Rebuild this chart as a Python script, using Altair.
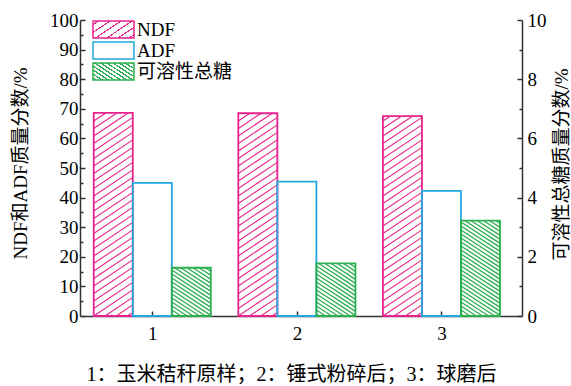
import altair as alt
import numpy as np
import pandas as pd

# Sample groups: 1 raw corn stover, 2 hammer-milled, 3 ball-milled
groups = [1, 2, 3]
ndf = [68.6, 68.5, 67.5]      # NDF mass fraction, %
adf = [45.0, 45.4, 42.3]      # ADF mass fraction, %
sugar = [1.63, 1.78, 3.22]    # total soluble sugar mass fraction, %

series_names = ["NDF", "ADF", "可溶性总糖"]
series_colors = ["#E8228C", "#22A9E1", "#2DAE50"]
x_tick_values = [1, 1.5, 2, 2.5, 3]
left_ticks = list(range(0, 101, 5))
right_ticks = list(range(0, 11))

FONT = "Liberation Serif, Noto Sans CJK SC"
PLOT_W, PLOT_H = 442, 296
X_DOMAIN = [0.5, 3.557]
BAR_W = 0.27
OFFSETS = {"NDF": -BAR_W, "ADF": 0.0, "可溶性总糖": BAR_W}

KX = PLOT_W / (X_DOMAIN[1] - X_DOMAIN[0])   # px per x unit
KY_LEFT = PLOT_H / 100.0
KY_RIGHT = PLOT_H / 10.0

rows = []
for name, vals in zip(series_names, [ndf, adf, sugar]):
    for g, v in zip(groups, vals):
        c = g + OFFSETS[name]
        rows.append({"group": g, "series": name, "value": v,
                     "x0": c - BAR_W / 2, "x1": c + BAR_W / 2})
bars = pd.DataFrame(rows)


def hatch_lines(x0, x1, top, ky, slope, gap, rising):
    """Diagonal hatch segments clipped to a bar, returned in data units."""
    wp = (x1 - x0) * KX
    hp = top * ky
    segs = []
    if rising:
        c = np.ceil(-slope * wp / gap) * gap
        while c < hp:
            a = max(0.0, -c / slope)
            b = min(wp, (hp - c) / slope)
            if b - a > 0.3:
                segs.append((a, slope * a + c, b, slope * b + c))
            c += gap
    else:
        c = gap / 2
        while c < hp + slope * wp:
            a = max(0.0, (c - hp) / slope)
            b = min(wp, c / slope)
            if b - a > 0.3:
                segs.append((a, -slope * a + c, b, -slope * b + c))
            c += gap
    return [(x0 + a / KX, ya / ky, x0 + b / KX, yb / ky) for a, ya, b, yb in segs]


hrows = []
for _, r in bars.iterrows():
    if r.series == "NDF":
        segs = hatch_lines(r.x0, r.x1, r.value, KY_LEFT, 0.67, 7.5, True)
    elif r.series == "可溶性总糖":
        segs = hatch_lines(r.x0, r.x1, r.value, KY_RIGHT, 0.65, 4.0, False)
    else:
        segs = []
    for xa, ya, xb, yb in segs:
        hrows.append({"series": r.series, "hx": xa, "hy": ya, "hx2": xb, "hy2": yb})
hatch = pd.DataFrame(hrows)


def stripe_gradient(w, h, slope, gap, line_w, color, rising):
    """Striped linear gradient for a w x h legend swatch (bbox units)."""
    span = slope * w + h
    k = span / (slope ** 2 * w ** 2 + h ** 2)
    gx, gy = slope * w * k, h * k
    if rising:
        x1, y1, x2, y2 = 0, 0, gx, gy
    else:
        x1, y1, x2, y2 = 0, 1, gx, 1 - gy
    half = line_w * np.sqrt(1 + slope ** 2) / 2 / span
    stops = ["{offset:0,color:'white'}"]
    t = gap / 2 / span
    while t < 1:
        a, b = max(t - half, 0), min(t + half, 1)
        stops += [f"{{offset:{a:.4f},color:'white'}}", f"{{offset:{a:.4f},color:'{color}'}}",
                  f"{{offset:{b:.4f},color:'{color}'}}", f"{{offset:{b:.4f},color:'white'}}"]
        t += gap / span
    stops.append("{offset:1,color:'white'}")
    return ("{gradient:'linear',x1:%g,y1:%g,x2:%.4f,y2:%.4f,stops:[%s]}"
            % (x1, y1, x2, y2, ",".join(stops)))


legend_fills = [
    {"expr": stripe_gradient(41, 17, 0.67, 7.5, 1.1, series_colors[0], True)},
    "white",
    {"expr": stripe_gradient(41, 17, 0.65, 4.0, 1.3, series_colors[2], False)},
]

stroke_scale = alt.Scale(domain=series_names, range=series_colors)
fill_scale = alt.Scale(domain=series_names, range=legend_fills)

legend = alt.Legend(
    title=None, orient="none", legendX=12, legendY=0, padding=0,
    symbolType="M-1,-1H3.82V1H-1Z", symbolSize=289, symbolStrokeWidth=1.5,
    labelFont=FONT, labelFontSize=19, labelColor="black", labelOffset=26,
    rowPadding={"expr": "-2"}, labelLimit=0,
)

x_axis = alt.Axis(
    values=x_tick_values, labelExpr="datum.value % 1 === 0 ? datum.label : ''",
    format="d", tickSize={"expr": "-5"}, labelPadding=13,
    title="1：玉米秸秆原样；2：锤式粉碎后；3：球磨后", titleX=211, titleY=58,
    titleAlign="center", titleBaseline="middle", titleFontSize=20,
)
x_scale = alt.Scale(domain=X_DOMAIN, nice=False, zero=False)

left_axis = alt.Axis(
    values=left_ticks, labelExpr="datum.value % 10 === 0 ? datum.label : ''",
    format="d", tickSize={"expr": "datum.value % 10 === 0 ? -5 : -3"}, labelPadding=7,
    title="NDF和ADF质量分数/%", titleAngle=270, titleX=-60, titleY=143,
    titleAlign="center", titleBaseline="middle",
)
left_scale = alt.Scale(domain=[0, 100], nice=False)

right_axis = alt.Axis(
    orient="right", values=right_ticks,
    labelExpr="datum.value % 2 === 0 ? datum.label : ''",
    format="d", tickSize={"expr": "datum.value % 2 === 0 ? -5 : -3"}, labelPadding=10,
    title="可溶性总糖质量分数/%", titleAngle=270, titleX=39, titleY=144,
    titleAlign="center", titleBaseline="middle",
)
right_scale = alt.Scale(domain=[0, 10], nice=False)

left_bars_data = bars[bars.series != "可溶性总糖"]
right_bars_data = bars[bars.series == "可溶性总糖"]

# Invisible layer that only carries the legend (hatched swatches)
legend_carrier = alt.Chart(left_bars_data).transform_filter("false").mark_bar().encode(
    x=alt.X("x0:Q", scale=x_scale, axis=x_axis),
    x2="x1:Q",
    y=alt.Y("value:Q", scale=left_scale, axis=left_axis, stack=None),
    y2=alt.datum(0),
    fill=alt.Fill("series:N", scale=fill_scale, legend=legend),
    stroke=alt.Stroke("series:N", scale=stroke_scale, legend=legend),
)

left_hatch = alt.Chart(hatch[hatch.series == "NDF"]).mark_rule(strokeWidth=1.1).encode(
    x=alt.X("hx:Q", scale=x_scale, axis=x_axis),
    x2="hx2:Q",
    y=alt.Y("hy:Q", scale=left_scale, axis=left_axis),
    y2="hy2:Q",
    stroke=alt.Stroke("series:N", scale=stroke_scale, legend=None),
)

left_bars = alt.Chart(left_bars_data).mark_bar(fillOpacity=0, strokeWidth=1.8).encode(
    x=alt.X("x0:Q", scale=x_scale, axis=x_axis),
    x2="x1:Q",
    y=alt.Y("value:Q", scale=left_scale, axis=left_axis, stack=None),
    y2=alt.datum(0),
    stroke=alt.Stroke("series:N", scale=stroke_scale, legend=None),
)

right_hatch = alt.Chart(hatch[hatch.series == "可溶性总糖"]).mark_rule(strokeWidth=1.3).encode(
    x=alt.X("hx:Q", scale=x_scale, axis=x_axis),
    x2="hx2:Q",
    y=alt.Y("hy:Q", scale=right_scale, axis=right_axis),
    y2="hy2:Q",
    stroke=alt.Stroke("series:N", scale=stroke_scale, legend=None),
)

right_bars = alt.Chart(right_bars_data).mark_bar(fillOpacity=0, strokeWidth=1.8).encode(
    x=alt.X("x0:Q", scale=x_scale, axis=x_axis),
    x2="x1:Q",
    y=alt.Y("value:Q", scale=right_scale, axis=right_axis, stack=None),
    y2=alt.datum(0),
    stroke=alt.Stroke("series:N", scale=stroke_scale, legend=None),
)

left = alt.layer(legend_carrier, left_hatch, left_bars)
right = alt.layer(right_hatch, right_bars)

chart = alt.layer(left, right).resolve_scale(y="independent").properties(
    width=PLOT_W, height=PLOT_H,
    autosize=alt.AutoSizeParams(type="none"),
    padding={"left": 80, "top": 20, "right": 49, "bottom": 70},
).configure_view(stroke=None).configure_axis(
    grid=False, domainColor="#333", domainWidth=1.5, tickColor="#333", tickWidth=1.5,
    labelFont=FONT, labelFontSize=19, labelColor="black",
    titleFont=FONT, titleFontSize=19, titleFontWeight="normal", titleColor="black",
)

chart.save("out.html", embed_options={"renderer": "svg", "actions": False})
